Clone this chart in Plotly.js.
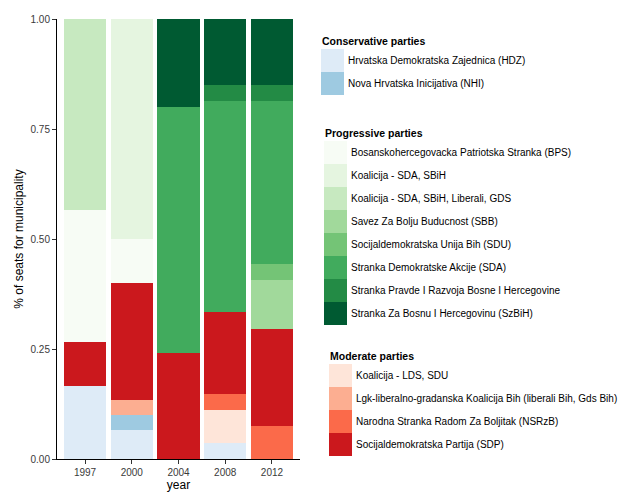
<!DOCTYPE html>
<html>
<head>
<meta charset="utf-8">
<script src="https://cdn.plot.ly/plotly-3.0.1.min.js"></script>
<style>html,body{margin:0;padding:0;background:#fff;}#chart{width:642px;height:504px;}</style>
</head>
<body>
<div id="chart"></div>
<script>
// ---- data ----
const years = ['1997', '2000', '2004', '2008', '2012'];

// Conservative parties
const HDZ  = [0.167, 0.067, 0, 0.037, 0];
const NHI  = [0, 0.033, 0, 0, 0];
// Moderate parties
const KoalicijaLDS = [0, 0, 0, 0.074, 0];
const Lgk          = [0, 0.033, 0, 0, 0];
const NSRzB        = [0, 0, 0, 0.037, 0.074];
const SDP          = [0.1, 0.267, 0.24, 0.185, 0.222];
// Progressive parties
const BPS          = [0.3, 0.1, 0, 0, 0];
const KoalicijaSDA = [0, 0.5, 0, 0, 0];
const KoalicijaGDS = [0.433, 0, 0, 0, 0];
const SBB          = [0, 0, 0, 0, 0.111];
const SDU          = [0, 0, 0, 0, 0.037];
const SDA          = [0, 0, 0.56, 0.481, 0.37];
const SPRBiH       = [0, 0, 0, 0.037, 0.037];
const SzBiH        = [0, 0, 0.2, 0.148, 0.148];

const conservativeNames = ['Hrvatska Demokratska Zajednica (HDZ)', 'Nova Hrvatska Inicijativa (NHI)'];
const progressiveNames = ['Bosanskohercegovacka Patriotska Stranka (BPS)', 'Koalicija - SDA, SBiH',
  'Koalicija - SDA, SBiH, Liberali, GDS', 'Savez Za Bolju Buducnost (SBB)', 'Socijaldemokratska Unija Bih (SDU)',
  'Stranka Demokratske Akcije (SDA)', 'Stranka Pravde I Razvoja Bosne I Hercegovine', 'Stranka Za Bosnu I Hercegovinu (SzBiH)'];
const moderateNames = ['Koalicija - LDS, SDU', 'Lgk-liberalno-gradanska Koalicija Bih (liberali Bih, Gds Bih)',
  'Narodna Stranka Radom Za Boljitak (NSRzB)', 'Socijaldemokratska Partija (SDP)'];

const conservativeValues = [HDZ, NHI];
const progressiveValues = [BPS, KoalicijaSDA, KoalicijaGDS, SBB, SDU, SDA, SPRBiH, SzBiH];
const moderateValues = [KoalicijaLDS, Lgk, NSRzB, SDP];

const conservativeColors = ['#deebf7', '#9ecae1'];
const progressiveColors = ['#f7fcf5', '#e5f5e0', '#c7e9c0', '#a1d99b', '#74c476', '#41ab5d', '#238b45', '#005a32'];
const moderateColors = ['#fee5d9', '#fcae91', '#fb6a4a', '#cb181d'];

// ---- traces (stack order bottom-up: conservative, moderate, progressive) ----
const traces = [];
function addTraces(names, values, colors) {
  names.forEach((n, i) => traces.push({
    type: 'bar', x: years, y: values[i], name: n,
    marker: {color: colors[i], line: {width: 0}},
    showlegend: false, hoverinfo: 'x+y+name'
  }));
}
addTraces(conservativeNames, conservativeValues, conservativeColors);
addTraces(moderateNames, moderateValues, moderateColors);
addTraces(progressiveNames, progressiveValues, progressiveColors);

// ---- custom legend (ggplot-like keys) ----
const W = 642, H = 504;
const M = {l: 57, r: 342, t: 19, b: 45};
const PW = W - M.l - M.r, PH = H - M.t - M.b;
const px2x = p => (p - M.l) / PW;
const py2y = p => (H - M.b - p) / PH;

const shapes = [], annotations = [];
const groups = [
  {title: 'Conservative parties', names: conservativeNames, colors: conservativeColors, x: 321, titleY: 41, top: 49},
  {title: 'Progressive parties', names: progressiveNames, colors: progressiveColors, x: 324, titleY: 133, top: 141},
  {title: 'Moderate parties', names: moderateNames, colors: moderateColors, x: 329, titleY: 356, top: 364}
];
const key = 23;
groups.forEach(g => {
  annotations.push({xref: 'paper', yref: 'paper', x: px2x(g.x - 1), y: py2y(g.titleY), text: '<b>' + g.title + '</b>',
    showarrow: false, xanchor: 'left', yanchor: 'middle', font: {size: 10.5, color: '#000'}});
  g.names.forEach((n, i) => {
    const t = g.top + i * key;
    shapes.push({type: 'rect', xref: 'paper', yref: 'paper', x0: px2x(g.x), x1: px2x(g.x + key),
      y0: py2y(t), y1: py2y(t + key), fillcolor: g.colors[i], line: {width: 0}, layer: 'above'});
    annotations.push({xref: 'paper', yref: 'paper', x: px2x(g.x + key + 2), y: py2y(t + key / 2), text: n,
      showarrow: false, xanchor: 'left', yanchor: 'middle', font: {size: 10, color: '#000'}});
  });
});

const layout = {
  width: W, height: H,
  margin: M,
  paper_bgcolor: '#fff', plot_bgcolor: '#fff',
  font: {family: 'Arial, "Liberation Sans", sans-serif', size: 10, color: '#000'},
  barmode: 'stack', bargap: 0.1,
  showlegend: false,
  xaxis: {type: 'category', range: [-0.6, 4.6], showline: true, linecolor: '#000', linewidth: 1,
    ticks: 'outside', ticklen: 4, tickcolor: '#333', showgrid: false, zeroline: false,
    tickfont: {size: 10, color: '#3a3a3a'},
    title: {text: 'year', font: {size: 12, color: '#000'}, standoff: 2}},
  yaxis: {range: [0, 1], showline: true, linecolor: '#000', linewidth: 1, ticks: 'outside', ticklen: 4,
    tickcolor: '#333', showgrid: false, zeroline: false, tickvals: [0, 0.25, 0.5, 0.75, 1], tickformat: '.2f',
    tickfont: {size: 10, color: '#3a3a3a'},
    title: {text: '% of seats for municipality', font: {size: 12, color: '#000'}, standoff: 4}},
  shapes: shapes, annotations: annotations
};

Plotly.newPlot('chart', traces, layout, {displayModeBar: false, staticPlot: true});
</script>
</body>
</html>
